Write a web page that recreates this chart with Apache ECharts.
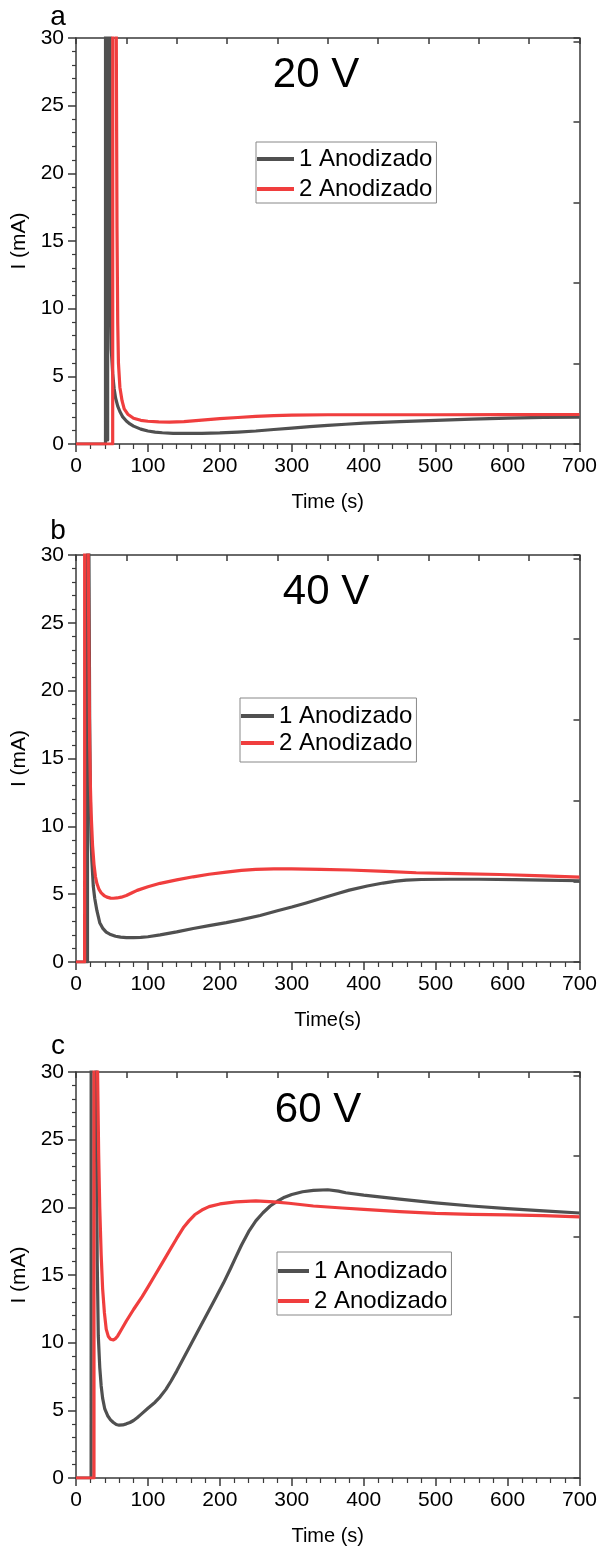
<!DOCTYPE html>
<html><head><meta charset="utf-8">
<script src="https://cdn.jsdelivr.net/npm/echarts@6/dist/echarts.min.js"></script>
<style>html,body{margin:0;padding:0;background:#fff}#c{width:600px;height:1549px}</style>
</head><body><div id="c"></div>
<script>
// ---- data: [time (s), current (mA)] ----
const a_anod1 = [[0,0],[41,0],[41.5,300],[44,0.3],[45,300],[46,300],[47.5,12],[49,7],[51,5.2],[53,4.1],[55,3.4],[58,2.8],[61,2.4],[65,2.0],[70,1.7],[75,1.48],[80,1.32],[90,1.1],[100,0.96],[110,0.88],[120,0.83],[135,0.79],[150,0.78],[175,0.79],[200,0.82],[225,0.88],[250,0.96],[275,1.07],[300,1.18],[325,1.28],[350,1.37],[375,1.46],[400,1.54],[450,1.65],[500,1.75],[550,1.84],[600,1.91],[650,1.96],[700,1.98]];
const a_anod2 = [[0,0],[51,0],[52,300],[54,300],[56,30],[57,16],[58,9],[59,6],[61,4.2],[64,3.2],[67,2.6],[72,2.2],[80,1.9],[90,1.75],[100,1.68],[115,1.63],[130,1.62],[150,1.66],[175,1.76],[200,1.87],[225,1.96],[250,2.04],[275,2.1],[300,2.14],[350,2.16],[400,2.16],[500,2.16],[600,2.17],[700,2.18]];
const b_anod1 = [[0,0],[16,0],[16.5,300],[18,30],[19,18],[20,12],[21,9],[22,7.5],[24,5.6],[26,4.7],[29,3.8],[33,2.9],[37,2.5],[42,2.2],[47,2.05],[55,1.9],[62,1.83],[70,1.8],[80,1.79],[90,1.81],[100,1.86],[117,2.0],[140,2.22],[163,2.47],[185,2.68],[209,2.9],[230,3.12],[256,3.43],[280,3.78],[300,4.05],[320,4.35],[345,4.75],[365,5.07],[380,5.3],[405,5.6],[427,5.82],[445,5.96],[459,6.03],[480,6.08],[519,6.1],[560,6.1],[611,6.07],[650,6.03],[700,5.99]];
const b_anod2 = [[0,0],[12,0],[12.5,300],[15,300],[17,30],[18,22],[19,16],[20,13],[21,11],[23,8.6],[25,7.2],[27,6.3],[29,5.8],[32,5.35],[35,5.1],[39,4.9],[43,4.78],[48,4.71],[52,4.7],[57,4.72],[63,4.78],[70,4.9],[78,5.1],[85,5.28],[100,5.55],[117,5.8],[140,6.05],[163,6.28],[185,6.47],[209,6.63],[230,6.75],[250,6.83],[275,6.86],[300,6.86],[340,6.83],[380,6.78],[430,6.68],[473,6.58],[530,6.52],[589,6.45],[650,6.35],[700,6.25]];
const c_anod1 = [[0,0],[21,0],[21.5,300],[27,40],[28.5,25],[29.5,16],[31,10.5],[33,8.2],[35,6.8],[37,5.9],[40,5.1],[44,4.6],[48,4.3],[52,4.1],[56,3.95],[60,3.9],[65,3.92],[70,4.0],[75,4.1],[80,4.25],[85,4.45],[90,4.68],[100,5.15],[110,5.6],[117,6.0],[125,6.55],[132,7.15],[140,7.9],[150,8.9],[160,9.9],[172,11.1],[185,12.4],[195,13.4],[205,14.4],[215,15.5],[222,16.3],[230,17.2],[240,18.2],[250,19.0],[260,19.6],[270,20.1],[280,20.45],[290,20.75],[300,20.95],[315,21.15],[330,21.25],[350,21.3],[365,21.2],[375,21.08],[400,20.9],[450,20.6],[500,20.33],[550,20.1],[600,19.9],[650,19.74],[700,19.58]];
const c_anod2 = [[0,0],[25,0],[25.5,300],[28,60],[30,30],[31.5,24],[33,20],[35,16.5],[37,14],[39.5,12.2],[42,11.0],[45,10.45],[48,10.25],[52,10.2],[55,10.3],[58,10.5],[63,10.95],[70,11.6],[80,12.45],[92,13.4],[100,14.1],[110,15.0],[120,15.9],[130,16.8],[140,17.7],[150,18.55],[157,19.0],[165,19.45],[175,19.8],[185,20.05],[200,20.25],[222,20.4],[250,20.48],[275,20.4],[296,20.3],[330,20.1],[370,19.95],[400,19.85],[450,19.68],[500,19.55],[550,19.48],[600,19.44],[650,19.38],[700,19.3]];
const seriesNames = ['1 Anodizado','2 Anodizado'];
const panelTitles = ['20 V','40 V','60 V'];
const panelLetters = ['a','b','c'];
const xNames = ['Time (s)','Time(s)','Time (s)'];
const yName = 'I (mA)';

const FONT = 'Liberation Sans, Arial, Helvetica, sans-serif';
const BLACK = '#505050', RED = '#f03e3e', AX = '#3a3a3a';
const grids = [
  {left:76, top:38, width:504, height:406},
  {left:76, top:555, width:504, height:407},
  {left:76, top:1072, width:504, height:406}
];
const data = [[a_anod1,a_anod2],[b_anod1,b_anod2],[c_anod1,c_anod2]];
const xAxis = [], yAxis = [], series = [];
grids.forEach((g,i)=>{
  xAxis.push({type:'value', gridIndex:i, position:'bottom', min:0, max:700, interval:100,
    name:xNames[i], nameLocation:'middle', nameGap:48, nameTextStyle:{fontSize:20, color:'#000', fontFamily:FONT},
    axisLine:{show:true, onZero:false, lineStyle:{color:AX, width:1.5}},
    axisTick:{show:true, inside:false, length:8, lineStyle:{color:AX, width:1.5}},
    minorTick:{show:true, splitNumber:5, length:5, lineStyle:{color:AX, width:1.2}},
    axisLabel:{fontSize:21, color:'#000', fontFamily:FONT, margin:12},
    splitLine:{show:false}});
  xAxis.push({type:'value', gridIndex:i, position:'top', min:0, max:700, interval:70,
    axisLine:{show:true, onZero:false, lineStyle:{color:AX, width:1.5}},
    axisTick:{show:true, inside:true, length:6, lineStyle:{color:AX, width:1.5}},
    axisLabel:{show:false}, splitLine:{show:false}});
  yAxis.push({type:'value', gridIndex:i, position:'left', min:0, max:30, interval:5,
    name:yName, nameLocation:'middle', nameGap:38, nameTextStyle:{fontSize:21, color:'#000', fontFamily:FONT},
    axisLine:{show:true, onZero:false, lineStyle:{color:AX, width:1.5}},
    axisTick:{show:true, inside:false, length:8, lineStyle:{color:AX, width:1.5}},
    minorTick:{show:true, splitNumber:5, length:4, lineStyle:{color:AX, width:1.2}},
    axisLabel:{fontSize:21, color:'#000', fontFamily:FONT, margin:12},
    splitLine:{show:false}});
  yAxis.push({type:'value', gridIndex:i, position:'right', min:-2.95, max:27.05, interval:5.95,
    axisLine:{show:true, onZero:false, lineStyle:{color:AX, width:1.5}},
    axisTick:{show:true, inside:true, length:6, lineStyle:{color:AX, width:1.5}},
    axisLabel:{show:false}, splitLine:{show:false}});
  series.push({name:seriesNames[0], type:'line', xAxisIndex:2*i, yAxisIndex:2*i, data:data[i][0],
    showSymbol:false, symbol:'none', clip:true, color:BLACK, lineStyle:{color:BLACK, width:3.2, join:'round'}, animation:false, z:2});
  series.push({name:seriesNames[1], type:'line', xAxisIndex:2*i, yAxisIndex:2*i, data:data[i][1],
    showSymbol:false, symbol:'none', clip:true, color:RED, lineStyle:{color:RED, width:3.2, join:'round'}, animation:false, z:3});
});
const legendPos = [
  {left:256, top:142, itemWidth:37, itemGap:6, padding:[5,4,2,1]},
  {left:240, top:698, itemWidth:33, itemGap:3, padding:[6,4,7,1]},
  {left:277, top:1252, itemWidth:31, itemGap:6, padding:[7,4,2,1]}
];
const legend = legendPos.map(p=>Object.assign({
  orient:'vertical', icon:'rect', itemHeight:4, data:seriesNames,
  borderColor:'#888', borderWidth:1, backgroundColor:'#fff',
  textStyle:{fontSize:24, color:'#000', fontFamily:FONT}, selectedMode:false
}, p));
const titlePos = [[316,75],[326,592],[318,1110]];
const letterPos = [[58,17],[58,531],[58,1046]];
const graphic = [];
panelTitles.forEach((t,i)=>{
  graphic.push({type:'text', x:titlePos[i][0], y:titlePos[i][1], z:10,
    style:{text:t, font:'42px '+FONT, fill:'#000', textAlign:'center', textVerticalAlign:'middle'}});
  graphic.push({type:'text', x:letterPos[i][0], y:letterPos[i][1], z:10,
    style:{text:panelLetters[i], font:'28px '+FONT, fill:'#000', textAlign:'center', textVerticalAlign:'middle'}});
});
const chart = echarts.init(document.getElementById('c'), null, {renderer:'canvas'});
chart.setOption({animation:false, backgroundColor:'#fff', grid:grids, xAxis, yAxis, series, legend, graphic});
</script></body></html>
